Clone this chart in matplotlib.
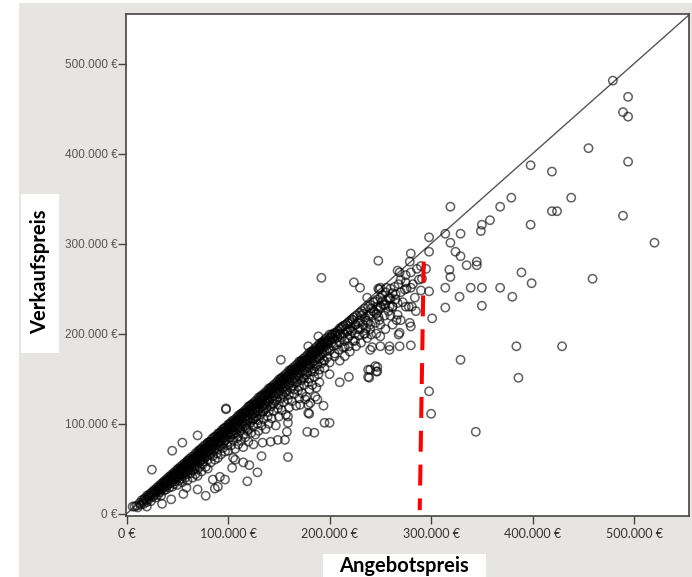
import numpy as np
import matplotlib.pyplot as plt
from matplotlib.patches import Rectangle
from matplotlib.ticker import FuncFormatter, MultipleLocator

# Punkte als (Angebotspreis, Verkaufspreis) in Tausend Euro
bis_50k = [
    (8, 8), (10, 9), (11, 7), (13, 12), (14, 10), (15, 15), (16, 13), (17, 11), (18, 17), (19, 15),
    (20, 20), (20, 13), (21, 18), (22, 21), (22, 16), (23, 19), (24, 23), (24, 14), (25, 22), (26, 25),
    (26, 19), (27, 23), (28, 27), (28, 21), (29, 25), (29, 18), (30, 29), (30, 24), (31, 27), (31, 21),
    (32, 31), (32, 26), (33, 28), (33, 24), (34, 33), (34, 30), (34, 20), (35, 31), (35, 27), (36, 35),
    (36, 29), (37, 33), (37, 26), (38, 37), (38, 34), (38, 30), (39, 35), (39, 27), (40, 39), (40, 36),
    (40, 31), (41, 37), (41, 33), (42, 41), (42, 38), (42, 29), (43, 39), (43, 34), (44, 43), (44, 37),
    (45, 41), (45, 35), (45, 30), (46, 45), (46, 42), (46, 38), (47, 43), (47, 33), (48, 47), (48, 40),
    (48, 36), (49, 45), (49, 42), (50, 49), (50, 44), (50, 39), (50, 32)]

von_50k_bis_100k = [
    (51, 50), (51, 46), (51, 41), (52, 48), (52, 44), (52, 37), (53, 52), (53, 47), (53, 43), (54, 50),
    (54, 45), (54, 39), (55, 54), (55, 49), (55, 44), (55, 35), (56, 52), (56, 47), (56, 42), (57, 56),
    (57, 51), (57, 46), (58, 54), (58, 48), (58, 40), (59, 57), (59, 53), (59, 47), (60, 59), (60, 55),
    (60, 50), (60, 44), (60, 37), (61, 57), (61, 52), (62, 61), (62, 56), (62, 49), (63, 59), (63, 54),
    (63, 45), (64, 63), (64, 58), (64, 52), (65, 61), (65, 56), (65, 48), (65, 40), (66, 64), (66, 59),
    (66, 53), (67, 62), (67, 57), (67, 50), (68, 67), (68, 61), (68, 55), (68, 44), (69, 65), (69, 59),
    (69, 52), (70, 69), (70, 64), (70, 58), (70, 49), (70, 42), (71, 66), (71, 61), (72, 71), (72, 65),
    (72, 58), (72, 52), (73, 68), (73, 62), (74, 72), (74, 67), (74, 60), (74, 47), (75, 74), (75, 69),
    (75, 63), (75, 55), (76, 71), (76, 65), (76, 58), (77, 76), (77, 70), (77, 62), (78, 73), (78, 67),
    (78, 52), (79, 77), (79, 71), (79, 64), (80, 79), (80, 74), (80, 68), (80, 60), (80, 50), (81, 76),
    (81, 70), (82, 80), (82, 75), (82, 66), (83, 78), (83, 72), (83, 57), (84, 83), (84, 77), (84, 70),
    (85, 80), (85, 74), (85, 64), (86, 85), (86, 79), (86, 71), (87, 82), (87, 76), (87, 60), (88, 86),
    (88, 80), (88, 73), (89, 84), (89, 78), (89, 67), (90, 89), (90, 85), (90, 79), (90, 72), (90, 62),
    (91, 86), (91, 80), (92, 90), (92, 84), (92, 75), (93, 88), (93, 81), (93, 66), (94, 93), (94, 87),
    (94, 78), (95, 90), (95, 84), (95, 73), (96, 95), (96, 89), (96, 80), (97, 92), (97, 85), (97, 69),
    (98, 96), (98, 90), (98, 82), (99, 94), (99, 87), (99, 76), (100, 99), (100, 94), (100, 88),
    (100, 80), (100, 70)]

von_100k_bis_150k = [
    (101, 96), (101, 90), (102, 100), (102, 94), (102, 85), (103, 98), (103, 91), (103, 76), (104, 103),
    (104, 96), (104, 88), (105, 100), (105, 93), (105, 82), (106, 104), (106, 97), (106, 89), (107, 102),
    (107, 95), (107, 72), (108, 106), (108, 99), (108, 90), (109, 104), (109, 96), (109, 84), (110, 109),
    (110, 103), (110, 95), (110, 86), (110, 77), (111, 105), (111, 98), (112, 110), (112, 104),
    (112, 92), (113, 108), (113, 100), (113, 81), (114, 112), (114, 106), (114, 95), (115, 110),
    (115, 102), (115, 88), (116, 114), (116, 107), (116, 97), (117, 112), (117, 104), (117, 85),
    (118, 116), (118, 109), (118, 99), (119, 113), (119, 105), (119, 92), (120, 119), (120, 112),
    (120, 104), (120, 94), (120, 80), (121, 115), (121, 107), (122, 120), (122, 113), (122, 101),
    (123, 118), (123, 110), (123, 90), (124, 122), (124, 115), (124, 104), (125, 120), (125, 111),
    (125, 97), (126, 124), (126, 117), (126, 106), (127, 121), (127, 113), (127, 88), (128, 126),
    (128, 119), (128, 108), (129, 123), (129, 115), (129, 100), (130, 129), (130, 122), (130, 114),
    (130, 104), (130, 92), (131, 125), (131, 117), (132, 130), (132, 123), (132, 110), (133, 127),
    (133, 119), (133, 98), (134, 132), (134, 125), (134, 113), (135, 130), (135, 121), (135, 105),
    (136, 134), (136, 127), (136, 116), (137, 131), (137, 123), (137, 94), (138, 136), (138, 129),
    (138, 118), (139, 133), (139, 125), (139, 108), (140, 139), (140, 132), (140, 124), (140, 113),
    (140, 100), (141, 135), (141, 127), (142, 140), (142, 133), (142, 119), (143, 137), (143, 129),
    (143, 106), (144, 142), (144, 135), (144, 122), (145, 140), (145, 131), (145, 114), (146, 144),
    (146, 137), (146, 125), (147, 141), (147, 133), (147, 98), (148, 146), (148, 139), (148, 127),
    (149, 143), (149, 134), (149, 117), (150, 149), (150, 142), (150, 133), (150, 121), (150, 108)]

von_150k_bis_200k = [
    (151, 145), (151, 137), (152, 150), (152, 143), (152, 128), (153, 147), (153, 139), (153, 115),
    (154, 152), (154, 145), (154, 132), (155, 150), (155, 141), (155, 124), (156, 154), (156, 147),
    (156, 135), (157, 151), (157, 142), (157, 110), (158, 156), (158, 149), (158, 137), (159, 153),
    (159, 144), (159, 127), (160, 159), (160, 152), (160, 143), (160, 132), (160, 118), (161, 155),
    (161, 146), (162, 160), (162, 153), (162, 139), (163, 157), (163, 148), (163, 125), (164, 162),
    (164, 155), (164, 142), (165, 160), (165, 150), (165, 133), (166, 164), (166, 157), (166, 145),
    (167, 161), (167, 152), (167, 120), (168, 166), (168, 159), (168, 147), (169, 163), (169, 154),
    (169, 137), (170, 169), (170, 162), (170, 152), (170, 141), (170, 128), (171, 165), (171, 156),
    (172, 170), (172, 163), (172, 148), (173, 167), (173, 158), (173, 134), (174, 172), (174, 165),
    (174, 151), (175, 170), (175, 160), (175, 143), (176, 174), (176, 167), (176, 154), (177, 171),
    (177, 162), (177, 130), (178, 176), (178, 169), (178, 157), (179, 173), (179, 164), (179, 146),
    (180, 179), (180, 172), (180, 162), (180, 150), (180, 138), (181, 175), (181, 166), (182, 180),
    (182, 173), (182, 158), (183, 177), (183, 168), (183, 143), (184, 182), (184, 175), (184, 161),
    (185, 180), (185, 170), (185, 152), (186, 184), (186, 177), (186, 164), (187, 181), (187, 172),
    (187, 140), (188, 186), (188, 179), (188, 166), (189, 183), (189, 174), (189, 155), (190, 189),
    (190, 182), (190, 172), (190, 160), (190, 146), (191, 185), (191, 176), (192, 190), (192, 183),
    (192, 167), (193, 187), (193, 178), (194, 192), (194, 185), (194, 170), (195, 190), (195, 180),
    (195, 162), (196, 194), (196, 186), (197, 191), (197, 181), (198, 196), (198, 189), (198, 174),
    (199, 193), (199, 184), (200, 199), (200, 192), (200, 181), (200, 168), (200, 155)]

von_200k_bis_300k = [
    (202, 199), (202, 190), (203, 195), (204, 186), (205, 201), (205, 194), (205, 178), (206, 198),
    (207, 188), (208, 203), (208, 196), (209, 182), (210, 206), (210, 199), (210, 190), (210, 170),
    (212, 207), (212, 196), (213, 185), (214, 209), (214, 200), (215, 192), (215, 175), (216, 210),
    (217, 202), (218, 212), (218, 195), (219, 186), (220, 214), (220, 205), (220, 198), (220, 180),
    (222, 216), (222, 203), (223, 192), (224, 218), (225, 210), (225, 200), (226, 186), (227, 220),
    (228, 212), (229, 198), (230, 223), (230, 215), (230, 205), (231, 190), (232, 225), (233, 210),
    (234, 200), (235, 228), (235, 218), (236, 206), (237, 195), (238, 230), (239, 220), (240, 232),
    (240, 222), (240, 210), (241, 199), (242, 185), (243, 235), (244, 224), (245, 236), (245, 212),
    (246, 200), (247, 238), (248, 226), (249, 215), (250, 240), (250, 230), (252, 243), (253, 232),
    (254, 220), (255, 246), (256, 237), (258, 225), (260, 250), (260, 240), (262, 230), (264, 252),
    (265, 244), (266, 215), (268, 255), (270, 260), (270, 246), (272, 235), (275, 265), (276, 250),
    (278, 230), (280, 268), (282, 255), (284, 240), (286, 272), (288, 260), (290, 275), (290, 248),
    (280, 289), (279, 280), (248, 281), (224, 257), (230, 251), (248, 250), (249, 249), (250, 251),
    (256, 251), (269, 268), (267, 270), (275, 257), (274, 249), (280, 251), (259, 239), (259, 230),
    (262, 230), (267, 234), (275, 230), (281, 230), (267, 221), (237, 240), (247, 230), (250, 229),
    (279, 212), (280, 208), (269, 201), (268, 199), (280, 187), (269, 186), (259, 186), (250, 186),
    (250, 197), (240, 182), (240, 160), (246, 158), (245, 164), (239, 151), (219, 152), (210, 146),
    (238, 152), (238, 160), (247, 163), (247, 158), (259, 182)]

# zusaetzliche Punkte im dichten Kern des Bandes
verdichtung = [
    (22, 20), (27, 25), (33, 30), (37, 35), (43, 41), (47, 44), (53, 50), (57, 53), (61, 59), (66, 61),
    (71, 68), (73, 71), (77, 73), (81, 79), (83, 80), (87, 85), (91, 89), (93, 91), (97, 95), (101, 99),
    (103, 101), (106, 101), (108, 103), (111, 108), (113, 111), (116, 111), (118, 113), (121, 119),
    (123, 121), (126, 121), (128, 123), (131, 128), (133, 131), (136, 131), (138, 133), (141, 138),
    (143, 140), (146, 140), (148, 143), (151, 148), (153, 151), (156, 150), (158, 152), (161, 158),
    (163, 160), (166, 160), (168, 162), (171, 168), (173, 170), (176, 170), (178, 172), (181, 177),
    (183, 180), (186, 180), (188, 182), (191, 187), (193, 190), (196, 189), (198, 192), (201, 196),
    (203, 199), (206, 200), (208, 200), (211, 205), (213, 208), (216, 205), (218, 203), (221, 212),
    (223, 215), (226, 210), (228, 205), (231, 220), (233, 222), (236, 215), (238, 212), (241, 228),
    (243, 225), (246, 222), (248, 219), (252, 236), (255, 232), (258, 240), (262, 245), (265, 238),
    (60, 52), (75, 66), (90, 76), (105, 88), (118, 95), (125, 105), (135, 114), (145, 122), (155, 130),
    (165, 138), (175, 150), (185, 158), (195, 170), (205, 175), (215, 185), (225, 192), (235, 200),
    (240, 205), (250, 210), (255, 205), (262, 210), (270, 215), (285, 225), (260, 220)]

ausreisser_oben = [
    (479, 481), (494, 463), (489, 446), (494, 441), (455, 406), (494, 391), (398, 387), (419, 380),
    (438, 351), (419, 336), (424, 336), (489, 331), (319, 341), (379, 351), (368, 341), (358, 326),
    (350, 321), (349, 314), (398, 321), (329, 311), (314, 311), (298, 307), (520, 301), (319, 301),
    (298, 291), (324, 291), (329, 286), (335, 276), (345, 280), (345, 276), (295, 272), (318, 271),
    (319, 263), (389, 268), (399, 256), (459, 261), (314, 251), (339, 251), (350, 251), (368, 251),
    (380, 241), (328, 241), (298, 247), (314, 229), (350, 231), (301, 217), (384, 186), (429, 186),
    (329, 171), (386, 151), (298, 136), (300, 111), (344, 91), (291, 261), (192, 262), (152, 171),
    (98, 117), (98, 116), (179, 186), (189, 197)]

ausreisser_unten = [
    (178, 91), (185, 90), (195, 101), (200, 101), (180, 111), (194, 120), (188, 127), (179, 121),
    (176, 127), (159, 108), (159, 101), (158, 91), (156, 82), (149, 82), (142, 80), (134, 79),
    (125, 77), (115, 74), (179, 112), (171, 121), (181, 123), (186, 130), (25, 49), (45, 70),
    (55, 79), (70, 87), (6, 8), (17, 16), (20, 8), (35, 11), (44, 16), (56, 22), (59, 29), (70, 27),
    (78, 20), (87, 28), (90, 30), (97, 38), (104, 51), (107, 60), (85, 38), (92, 41), (119, 36),
    (129, 46), (133, 64), (159, 63), (115, 57), (121, 54), (105, 62)]

# rote Markierung bei ca. 290.000 EUR Angebotspreis
rote_linie_x = [292.7, 288.8]
rote_linie_y = [280, 4]

alle = np.array(bis_50k + von_50k_bis_100k + von_100k_bis_150k + von_150k_bis_200k
                + von_200k_bis_300k + verdichtung + ausreisser_oben + ausreisser_unten) * 1000

fig = plt.figure(figsize=(6.92, 5.77), dpi=100, facecolor='white')
# grauer Hintergrund wie im SPSS-Fenster
fig.patches.append(Rectangle((19 / 692, 0), 1, 1 - 3 / 577, transform=fig.transFigure,
                             facecolor='#e6e5e1', edgecolor='none', zorder=-10))
ax = fig.add_axes([126 / 692, 1 - 516 / 577, 563 / 692, 502 / 577])
ax.set_facecolor('white')

ax.plot([0, 600000], [0, 600000], color='#555555', lw=1.0, zorder=2)
ax.scatter(alle[:, 0], alle[:, 1], s=36, facecolors='none',
           edgecolors=(0, 0, 0, 0.62), linewidths=1.1, zorder=3)
ax.plot(np.array(rote_linie_x) * 1000, np.array(rote_linie_y) * 1000, color='#ff0000',
        lw=2.9, dashes=(5.2, 3.2), solid_capstyle='butt', dash_capstyle='butt', zorder=4)

ax.set_xlim(-500, 554000)
ax.set_ylim(-2500, 555000)


def euro(v, pos):
    v = int(round(v / 1000))
    return '0 €' if v == 0 else f'{v}.000 €'


ax.xaxis.set_major_locator(MultipleLocator(100000))
ax.yaxis.set_major_locator(MultipleLocator(100000))
ax.xaxis.set_major_formatter(FuncFormatter(euro))
ax.yaxis.set_major_formatter(FuncFormatter(euro))
ax.tick_params(axis='y', length=6, width=1, color='#444444', pad=0, labelcolor='#555555')
ax.tick_params(axis='x', length=6, width=1, color='#444444', pad=3, labelcolor='#333333')
for lab in ax.get_yticklabels():
    lab.set_fontfamily('Liberation Sans')
    lab.set_fontsize(8.5)
for lab in ax.get_xticklabels():
    lab.set_fontfamily('Lato')
    lab.set_fontsize(9)
for sp in ax.spines.values():
    sp.set_color('#444444')
    sp.set_linewidth(1.2)

# weisse Kaesten hinter den Achsentiteln
fig.patches.append(Rectangle((21 / 692, 1 - 353 / 577), 38 / 692, 159 / 577,
                             transform=fig.transFigure, facecolor='white', edgecolor='none',
                             zorder=-5))
fig.patches.append(Rectangle((323 / 692, 0), 163 / 692, 23 / 577,
                             transform=fig.transFigure, facecolor='white', edgecolor='none',
                             zorder=-5))
fig.text(40 / 692, 1 - 272 / 577, 'Verkaufspreis', rotation=90, ha='center', va='center',
         fontsize=14.5, fontweight='bold', family='Lato', color='#000000')
fig.text(404 / 692, 1 - 566 / 577, 'Angebotspreis', ha='center', va='center',
         fontsize=14.5, fontweight='bold', family='Lato', color='#000000')

fig.savefig('out.png', dpi=100, facecolor=fig.get_facecolor())
